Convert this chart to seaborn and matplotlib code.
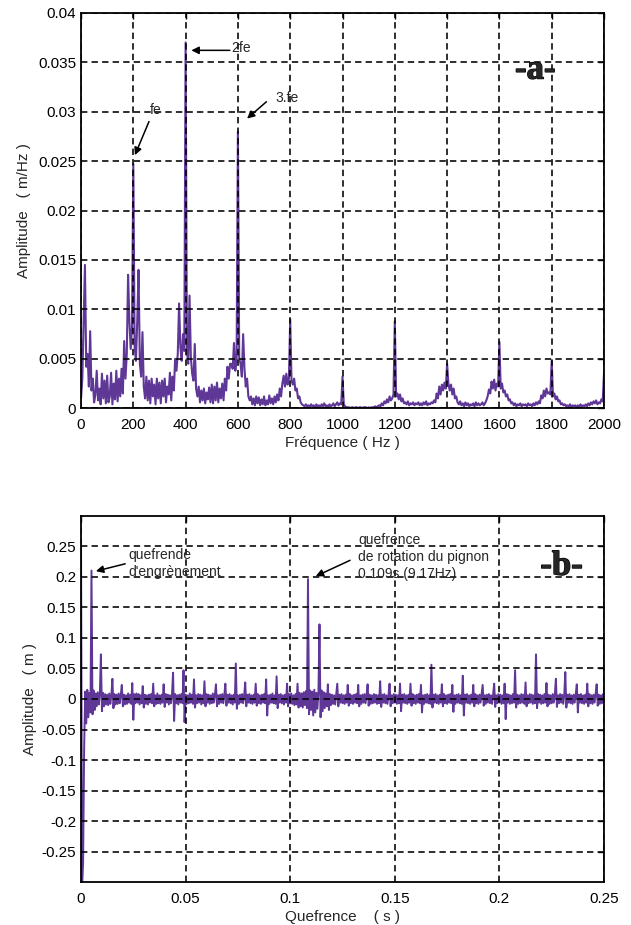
import numpy as np
import matplotlib
matplotlib.use("Agg")
import matplotlib.pyplot as plt
import matplotlib.patheffects as pe
import seaborn as sns

# ---------------------------------------------------------------
# (a) Amplitude spectrum, one value every 5 Hz, in units of 1e-4 m/Hz
# ---------------------------------------------------------------
freq_step_hz = 5
spec_0_195 = [10, 30, 87, 145, 42, 55, 22, 78, 18, 30, 6, 14, 38, 8, 20, 4, 35, 10, 28, 5,
              33, 6, 12, 36, 4, 25, 9, 38, 7, 30, 12, 40, 15, 68, 30, 55, 135, 88, 60, 82]
spec_200_395 = [247, 62, 48, 88, 140, 45, 32, 77, 22, 10, 32, 8, 28, 5, 30, 12, 24, 4, 30, 10,
                26, 5, 28, 12, 30, 6, 22, 14, 36, 8, 32, 18, 50, 38, 55, 106, 62, 48, 75, 58]
spec_400_595 = [370, 58, 45, 114, 52, 35, 28, 65, 20, 12, 22, 6, 18, 8, 20, 5, 16, 9, 21, 6,
                24, 5, 22, 8, 26, 6, 20, 10, 25, 8, 30, 18, 42, 30, 45, 45, 40, 66, 38, 50]
spec_600_795 = [280, 50, 45, 32, 75, 40, 22, 30, 12, 8, 12, 4, 10, 3, 12, 5, 11, 3, 9, 4,
                12, 3, 8, 4, 13, 5, 10, 4, 12, 6, 14, 8, 20, 12, 25, 33, 22, 35, 24, 30]
spec_800_995 = [90, 28, 24, 30, 18, 20, 10, 12, 6, 4, 3, 2, 4, 2, 3, 1, 4, 2, 3, 1,
                4, 2, 3, 1, 4, 2, 5, 2, 3, 1, 4, 2, 3, 5, 2, 4, 6, 3, 5, 4]
spec_1000_1195 = [32, 4, 2, 1, 1, 1, 0, 1, 1, 0, 1, 1, 0, 1, 1, 0, 1, 1, 1, 0,
                  1, 0, 1, 1, 1, 2, 1, 2, 3, 2, 5, 3, 7, 5, 9, 6, 12, 8, 10, 14]
spec_1200_1395 = [88, 12, 15, 9, 14, 7, 10, 5, 6, 4, 7, 3, 5, 4, 6, 3, 5, 4, 6, 3,
                  5, 3, 6, 4, 7, 3, 5, 4, 6, 5, 8, 6, 15, 10, 22, 14, 24, 18, 26, 20]
spec_1400_1595 = [45, 25, 18, 24, 14, 20, 10, 12, 6, 4, 7, 3, 5, 2, 6, 3, 5, 2, 4, 3,
                  5, 2, 6, 3, 5, 3, 4, 6, 3, 5, 8, 12, 19, 15, 27, 20, 29, 18, 25, 22]
spec_1600_1795 = [67, 20, 25, 16, 18, 12, 14, 8, 9, 5, 6, 3, 5, 2, 4, 3, 5, 2, 4, 3,
                  4, 2, 5, 3, 4, 2, 5, 3, 6, 4, 7, 5, 13, 10, 18, 12, 20, 15, 16, 14]
spec_1800_2000 = [48, 12, 15, 9, 12, 7, 8, 4, 5, 3, 4, 2, 3, 2, 4, 1, 3, 2, 3, 1,
                  3, 1, 4, 2, 3, 2, 4, 2, 5, 3, 6, 4, 7, 5, 8, 4, 6, 5, 9, 7, 35]

spec_xticks = [0, 200, 400, 600, 800, 1000, 1200, 1400, 1600, 1800, 2000]
spec_yticks = [0, 0.005, 0.01, 0.015, 0.02, 0.025, 0.03, 0.035, 0.04]
spec_yticklabels = ["0", "0.005", "0.01", "0.015", "0.02", "0.025", "0.03", "0.035", "0.04"]

# ---------------------------------------------------------------
# (b) Cepstrum, one value every 0.5 ms, in units of 1e-3 m
# ---------------------------------------------------------------
quef_step_s = 0.0005
cep_0_49ms = [260, -310, -266, -80, 12, -40, 15, -30, 10, -22,
              210, -25, 14, -18, 9, -12, 11, -9, 8, 73,
              -20, 10, -12, 8, -9, 7, -10, 9, -8, 6,
              33, -15, 8, -9, 7, -8, 9, -7, 6, 23,
              -12, 7, -9, 6, -8, 9, -6, 7, -8, 26,
              -34, 8, -7, 9, -6, 8, -9, 6, -7, 21,
              -14, 7, -8, 6, -9, 7, -6, 8, -7, 25,
              -12, 6, -8, 9, -7, 6, -8, 7, -6, 24,
              -13, 8, -6, 7, -9, 6, -7, 8, 43, -36,
              8, -7, 6, -9, 7, -6, 8, -7, 47, -38]
cep_50_99ms = [7, -8, 6, -7, 9, -6, 7, -8, 32, -14,
               6, -7, 8, -6, 7, -9, 6, -7, 29, -12,
               8, -6, 7, -8, 6, -7, 9, -6, 7, 24,
               -12, 6, -8, 7, -6, 8, -7, 6, 25, -11,
               7, -6, 8, -7, 6, -9, 7, -6, 58, -16,
               6, -8, 7, -6, 8, -7, 6, 27, -12, 7,
               -6, 8, -7, 6, -8, 7, -6, 25, -11, 8,
               -7, 6, -8, 7, -6, 8, -7, 32, -27, 6,
               -8, 7, -6, 9, -7, 6, -8, 37, -15, 7,
               -6, 8, -7, 6, -9, 7, -6, 25, -12, 8]
cep_100_149ms = [-7, 9, -8, 6, -10, 8, -9, 25, -14, 10,
                 -12, 9, -14, 11, -10, 13, -15, 196, -25, 14,
                 -18, 12, -27, 15, -22, 10, -16, 12, 122, -30,
                 14, -20, 11, -15, 9, -12, 24, -18, 8, -10,
                 7, -8, 6, -9, 8, 25, -12, 7, -6, 8,
                 -7, 6, -8, 7, -6, 23, -11, 8, -7, 6,
                 -8, 7, -6, 8, -7, 23, -12, 6, -8, 7,
                 -6, 8, -7, 6, 24, -11, 7, -8, 6, -7,
                 8, -6, 7, -8, 6, -7, 29, -13, 7, -6,
                 8, -7, 6, -8, 7, 25, -12, 6, -7, 8]
cep_150_199ms = [-6, 7, -8, 6, -7, 25, -20, 7, -6, 8,
                 -7, 6, -8, 7, -6, 25, -11, 8, -7, 6,
                 -8, 7, -6, 8, -7, 23, -22, 6, -8, 7,
                 -6, 8, -7, 6, -8, 56, -14, 7, -6, 8,
                 -7, 6, -8, 7, -6, 24, -12, 8, -7, 6,
                 -8, 7, -6, 8, -7, 23, -21, 6, -8, 7,
                 -6, 8, -7, 6, -8, 38, -27, 7, -6, 8,
                 -7, 6, -8, 7, -6, 23, -12, 8, -7, 6,
                 -8, 7, -6, 8, 23, -11, 6, -8, 7, -6,
                 8, -7, 6, -8, 7, 25, -13, 6, -7, 8]
cep_200_250ms = [-6, 7, -8, 6, -7, 25, -33, 8, -6, 7,
                 -8, 6, -7, 8, -6, 47, -14, 7, -8, 6,
                 -7, 8, -6, 7, -8, 27, -12, 6, -7, 8,
                 -6, 7, -8, 6, -7, 73, -15, 8, -6, 7,
                 -8, 6, -7, 8, -6, 26, -12, 7, -8, 6,
                 -7, 8, -6, 7, 33, -13, 6, -7, 8, -6,
                 7, -8, 6, 44, -14, 7, -6, 8, -7, 6,
                 -8, 7, -6, 8, 24, -22, 7, -6, 8, -7,
                 6, -8, 7, -6, 25, -12, 8, -7, 6, -8,
                 7, -6, 8, 24, -11, 7, -8, 6, -7, 8,
                 5]

cep_xticks = [0, 0.05, 0.1, 0.15, 0.2, 0.25]
cep_xticklabels = ["0", "0.05", "0.1", "0.15", "0.2", "0.25"]
cep_yticks = [-0.25, -0.2, -0.15, -0.1, -0.05, 0, 0.05, 0.1, 0.15, 0.2, 0.25]
cep_yticklabels = ["-0.25", "-0.2", "-0.15", "-0.1", "-0.05", "0",
                   "0.05", "0.1", "0.15", "0.2", "0.25"]

# ---------------------------------------------------------------
spectrum = np.array(spec_0_195 + spec_200_395 + spec_400_595 + spec_600_795 +
                    spec_800_995 + spec_1000_1195 + spec_1200_1395 +
                    spec_1400_1595 + spec_1600_1795 + spec_1800_2000) * 1e-4
freq = np.arange(len(spectrum)) * freq_step_hz

cepstrum = np.array(cep_0_49ms + cep_50_99ms + cep_100_149ms +
                    cep_150_199ms + cep_200_250ms) * 1e-3
quef = np.arange(len(cepstrum)) * quef_step_s

sns.set_style("white")
plt.rcParams["font.family"] = ["Liberation Sans", "DejaVu Sans"]
plt.rcParams["axes.unicode_minus"] = False

LINE = "#5f3797"
FS = 11
SERIF = ["Liberation Serif", "DejaVu Serif"]
heavy = [pe.withStroke(linewidth=0.9, foreground="black")]

fig = plt.figure(figsize=(6.31, 9.25), dpi=100)
ax_a = fig.add_axes([0.1284, 0.5586, 0.8288, 0.4276])
ax_b = fig.add_axes([0.1284, 0.0460, 0.8288, 0.3967])


def style_axes(ax):
    ax.set_axisbelow(False)
    ax.grid(True, color="black", linestyle=(0, (4, 2.6)), linewidth=1.15)
    for s in ax.spines.values():
        s.set_color("black")
        s.set_linewidth(1.3)
        s.set_visible(True)
    ax.tick_params(direction="in", length=4, width=1, colors="black",
                   labelsize=FS, top=True, right=True, pad=3.5)
    ax.tick_params(axis="x", pad=7)


# ---- (a) spectrum
sns.lineplot(x=freq, y=spectrum, ax=ax_a, color=LINE, linewidth=1.5,
             estimator=None, sort=False)
ax_a.set_xlim(0, 2000)
ax_a.set_ylim(0, 0.04)
ax_a.set_xticks(spec_xticks)
ax_a.set_xticklabels([str(t) for t in spec_xticks])
ax_a.set_yticks(spec_yticks)
ax_a.set_yticklabels(spec_yticklabels)
style_axes(ax_a)
ax_a.set_xlabel("Fréquence ( Hz )", fontsize=FS, labelpad=3)
ax_a.set_ylabel("Amplitude   ( m/Hz )", fontsize=FS, labelpad=5)

arrow = dict(arrowstyle="-|>", color="black", lw=1.1, mutation_scale=11,
             shrinkA=0, shrinkB=0)
ax_a.annotate("", xy=(206, 0.0256), xytext=(260, 0.0290), arrowprops=arrow)
ax_a.text(262, 0.0302, "fe", fontsize=FS - 1, va="center", ha="left")
ax_a.annotate("", xy=(422, 0.0362), xytext=(569, 0.0362), arrowprops=arrow)
ax_a.text(573, 0.0364, "2fe", fontsize=FS - 1, va="center", ha="left")
ax_a.annotate("", xy=(635, 0.0293), xytext=(709, 0.0310), arrowprops=arrow)
ax_a.text(742, 0.0314, "3.fe", fontsize=FS - 1, va="center", ha="left")
ax_a.text(1737, 0.0342, "-a-", fontsize=25, fontweight="bold", family=SERIF,
          ha="center", va="center", path_effects=heavy)

# ---- (b) cepstrum
sns.lineplot(x=quef, y=cepstrum, ax=ax_b, color=LINE, linewidth=1.4,
             estimator=None, sort=False)
ax_b.set_xlim(0, 0.25)
ax_b.set_ylim(-0.3, 0.3)
ax_b.set_xticks(cep_xticks)
ax_b.set_xticklabels(cep_xticklabels)
ax_b.set_yticks(cep_yticks)
ax_b.set_yticklabels(cep_yticklabels)
style_axes(ax_b)
ax_b.set_xlabel("Quefrence    ( s )", fontsize=FS, labelpad=3)
ax_b.set_ylabel("Amplitude   ( m )", fontsize=FS, labelpad=3)

ax_b.annotate("", xy=(0.0071, 0.209), xytext=(0.0211, 0.221), arrowprops=arrow)
ax_b.text(0.0227, 0.222, "quefrende\nd'engrènement", fontsize=FS - 1,
          va="center", ha="left", linespacing=1.3)
ax_b.annotate("", xy=(0.1122, 0.2007), xytext=(0.1286, 0.2267), arrowprops=arrow)
ax_b.text(0.1325, 0.232, "quefrence\nde rotation du pignon\n0.109s (9.17Hz)",
          fontsize=FS - 1, va="center", ha="left", linespacing=1.3)
ax_b.text(0.2297, 0.217, "-b-", fontsize=25, fontweight="bold", family=SERIF,
          ha="center", va="center", path_effects=heavy)

fig.savefig("out.png", dpi=100, facecolor="white")
